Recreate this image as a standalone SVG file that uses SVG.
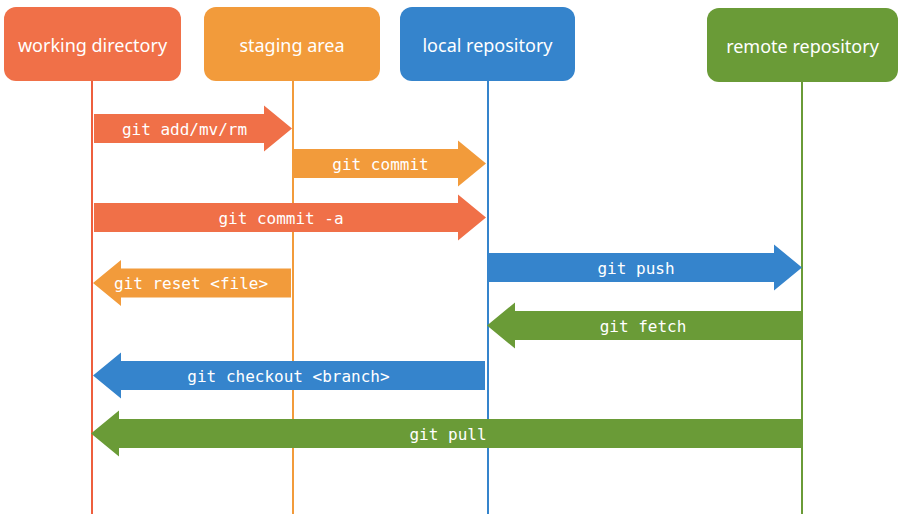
<svg xmlns="http://www.w3.org/2000/svg" width="906" height="522" viewBox="0 0 906 522">
<style>
.box{stroke:none}
.ntext{font-family:"Noto Sans","Open Sans",sans-serif;font-size:18px;fill:#ffffff;text-anchor:middle}
.life{stroke-width:2;fill:none}
.atext{font-family:"DejaVu Sans Mono","Liberation Mono",monospace;font-size:16px;fill:#ffffff;text-anchor:middle}
.red{fill:#F07048}
.org{fill:#F29B3B}
.blu{fill:#3584CC}
.grn{fill:#6A9B37}
</style>
<rect width="906" height="522" fill="#ffffff"/>
<g id="node-working">
<line class="life" x1="92" y1="80" x2="92" y2="514" stroke="#EE5F3E"/>
<rect class="box red" x="4" y="7" width="177" height="74" rx="12"/>
<text class="ntext" x="92.5" y="52">working directory</text>
</g>
<g id="node-staging">
<line class="life" x1="293" y1="80" x2="293" y2="514" stroke="#F29B3B"/>
<rect class="box org" x="204" y="7" width="176" height="74" rx="12"/>
<text class="ntext" x="292" y="52">staging area</text>
</g>
<g id="node-local">
<line class="life" x1="488" y1="80" x2="488" y2="514" stroke="#3584CC"/>
<rect class="box blu" x="400" y="7" width="175" height="74" rx="12"/>
<text class="ntext" x="487.5" y="52">local repository</text>
</g>
<g id="node-remote">
<line class="life" x1="802" y1="81" x2="802" y2="514" stroke="#6A9B37"/>
<rect class="box grn" x="707" y="8" width="191" height="74" rx="12"/>
<text class="ntext" x="802.5" y="53">remote repository</text>
</g>
<g id="connectors">
<path class="red" d="M94,114 H264 V105.5 L292,128.5 L264,151.5 V143 H94 Z"/>
<text class="atext" x="184.5" y="135">git add/mv/rm</text>
<path class="org" d="M293,149 H458 V140.5 L486,163.5 L458,186.5 V178 H293 Z"/>
<text class="atext" x="380.5" y="170">git commit</text>
<path class="red" d="M94,203 H458 V194.5 L486,217.5 L458,240.5 V232 H94 Z"/>
<text class="atext" x="281" y="224">git commit -a</text>
<path class="blu" d="M488,253 H774 V244.5 L802,267.5 L774,290.5 V282 H488 Z"/>
<text class="atext" x="636" y="274">git push</text>
<path class="org" d="M291,268.5 H121 V260 L93,283 L121,306 V297.5 H291 Z"/>
<text class="atext" x="191" y="289">git reset &lt;file&gt;</text>
<path class="grn" d="M802,311 H515 V302.5 L487,325.5 L515,348.5 V340 H802 Z"/>
<text class="atext" x="643" y="332">git fetch</text>
<path class="blu" d="M485,361 H121 V352.5 L93,375.5 L121,398.5 V390 H485 Z"/>
<text class="atext" x="288.5" y="382">git checkout &lt;branch&gt;</text>
<path class="grn" d="M802,419 H119 V410.5 L91,433.5 L119,456.5 V448 H802 Z"/>
<text class="atext" x="448" y="440">git pull</text>
</g>
</svg>
